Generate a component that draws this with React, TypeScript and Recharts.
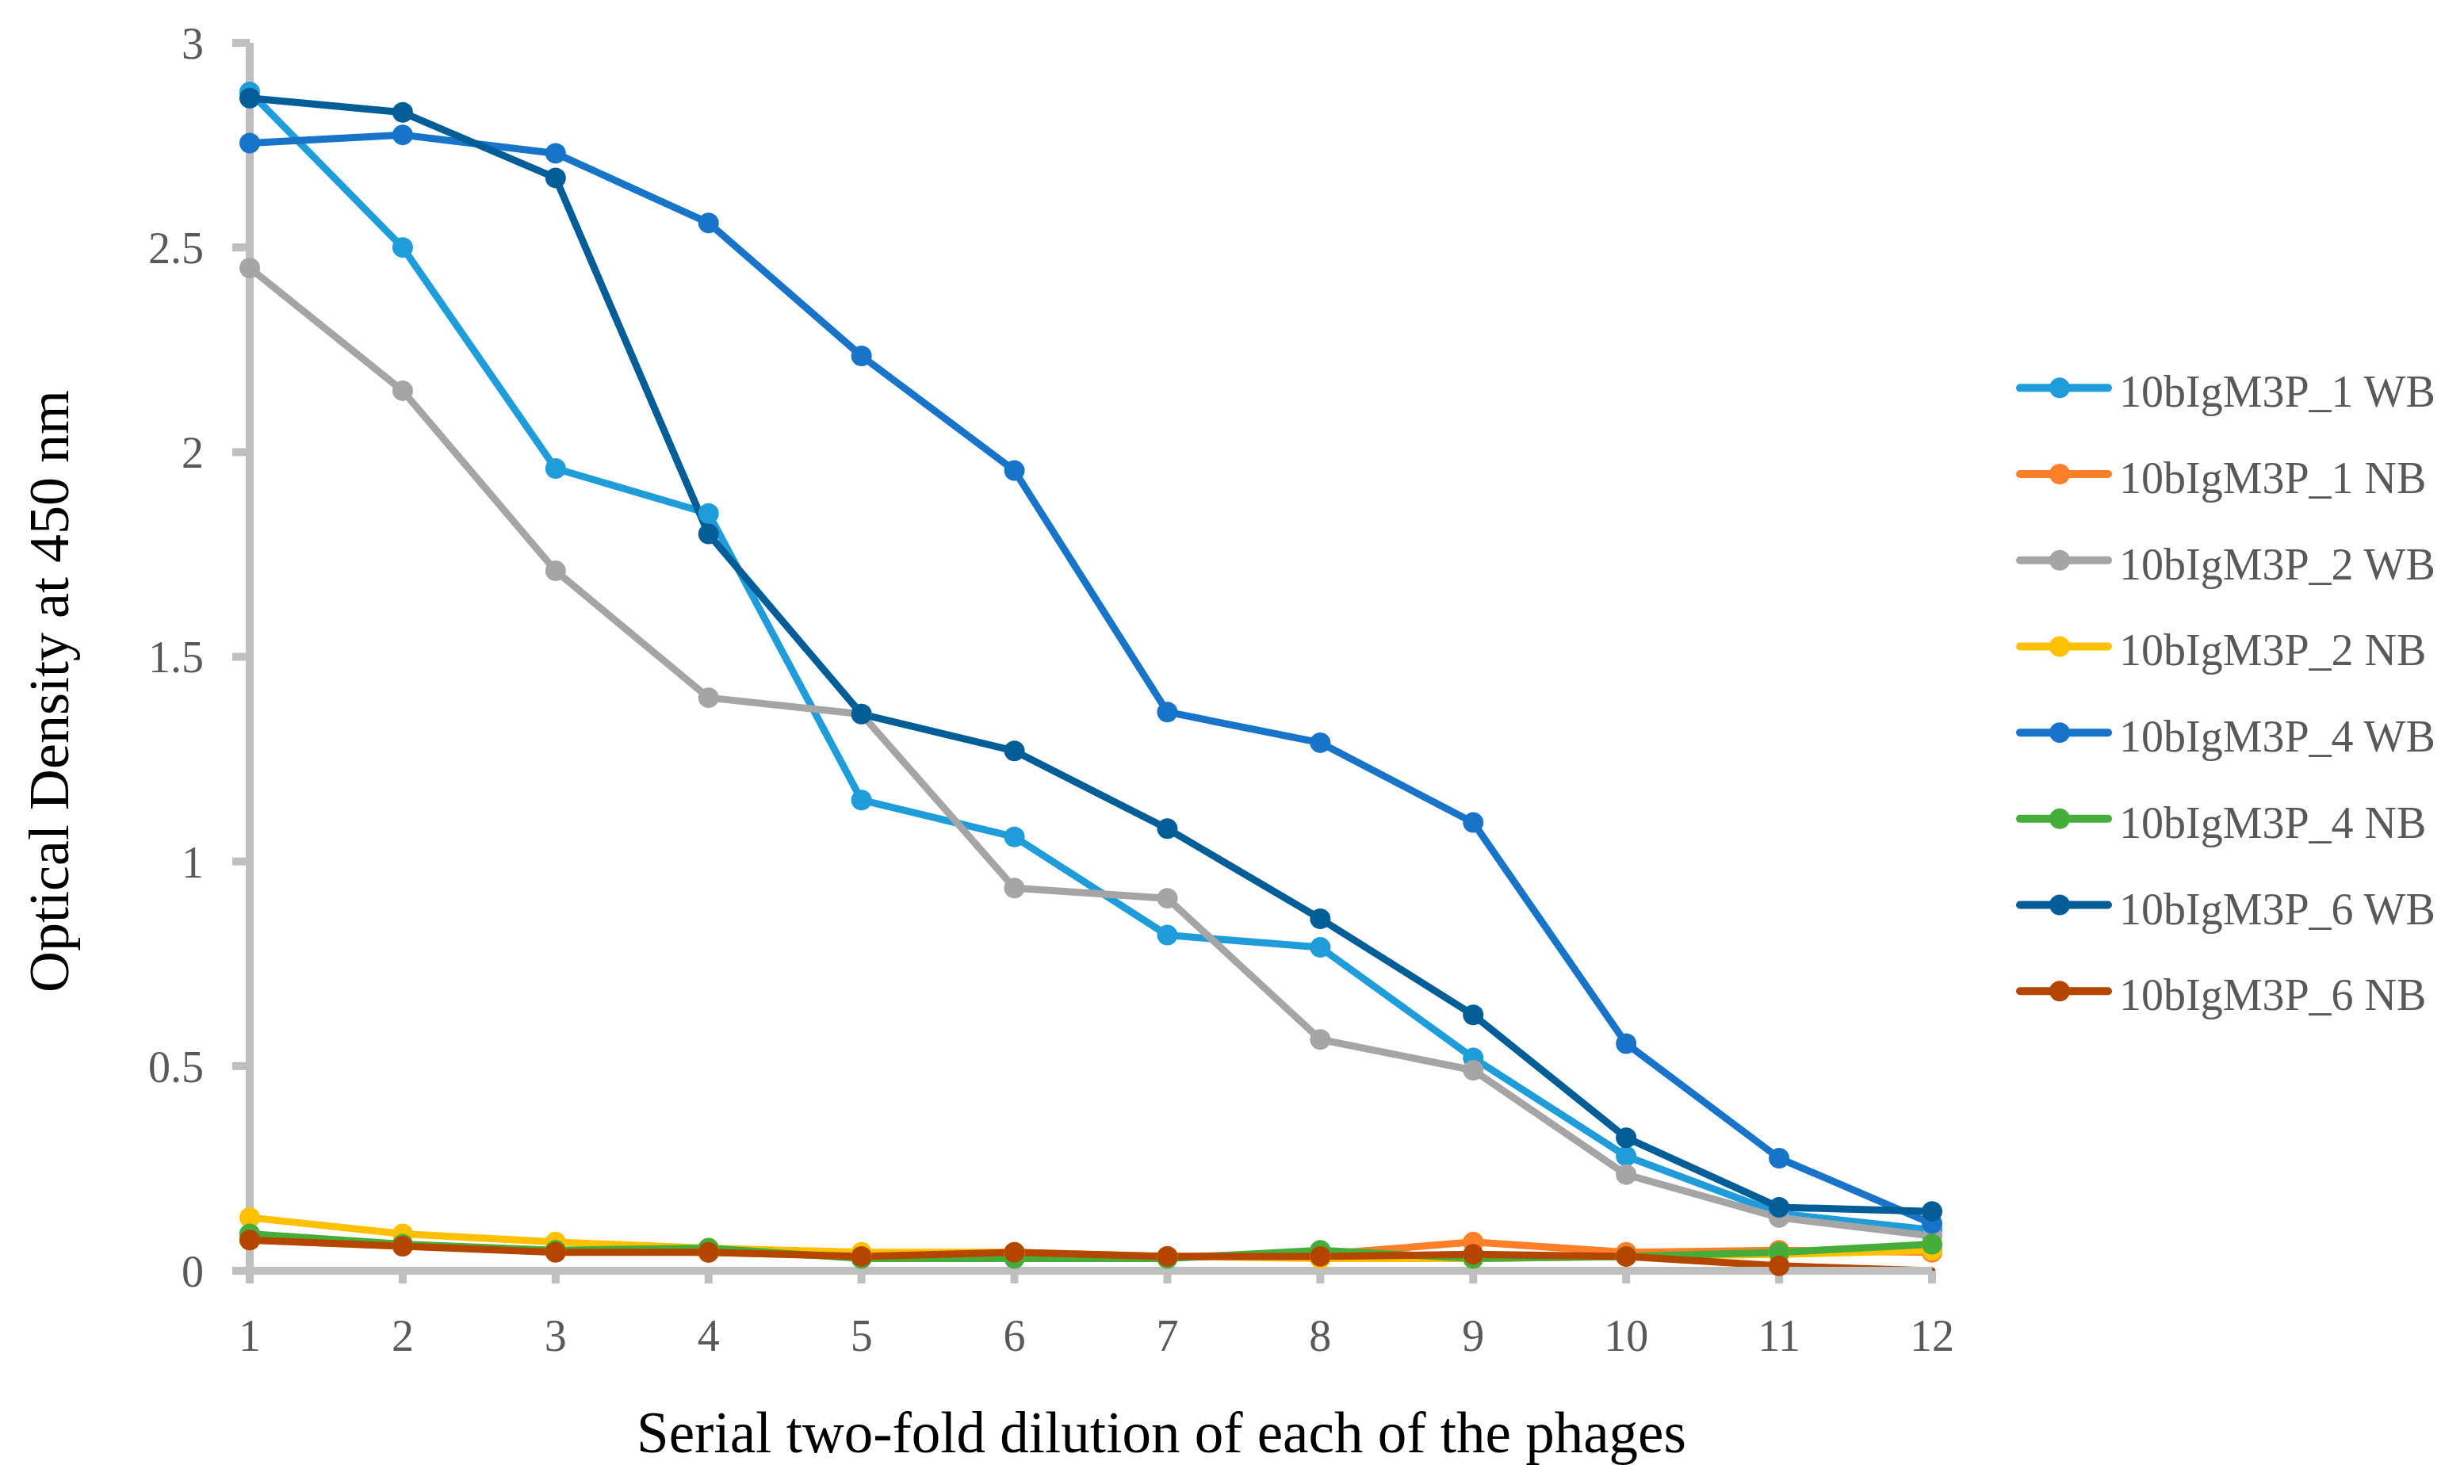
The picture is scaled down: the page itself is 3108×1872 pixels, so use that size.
import React from "react";
import { LineChart, Line, XAxis, YAxis, Legend, Label } from "recharts";

// dilution steps on the x axis
const dilutions = ["1", "2", "3", "4", "5", "6", "7", "8", "9", "10", "11", "12"];

// OD450 readings
const phage1WB = [2.88, 2.5, 1.96, 1.85, 1.15, 1.06, 0.82, 0.79, 0.52, 0.28, 0.14, 0.1];
const phage1NB = [0.075, 0.06, 0.05, 0.045, 0.035, 0.04, 0.035, 0.04, 0.07, 0.045, 0.05, 0.045];
const phage2WB = [2.45, 2.15, 1.71, 1.4, 1.36, 0.935, 0.91, 0.565, 0.49, 0.235, 0.13, 0.085];
const phage2NB = [0.13, 0.09, 0.07, 0.055, 0.045, 0.045, 0.035, 0.03, 0.03, 0.035, 0.04, 0.05];
const phage4WB = [2.755, 2.775, 2.73, 2.56, 2.235, 1.955, 1.365, 1.29, 1.095, 0.555, 0.275, 0.115];
const phage4NB = [0.09, 0.065, 0.05, 0.055, 0.03, 0.03, 0.03, 0.05, 0.03, 0.035, 0.045, 0.065];
const phage6WB = [2.865, 2.83, 2.67, 1.8, 1.36, 1.27, 1.08, 0.86, 0.625, 0.325, 0.155, 0.145];
const phage6NB = [0.075, 0.06, 0.045, 0.045, 0.035, 0.045, 0.035, 0.035, 0.04, 0.035, 0.012, 0.0];

const yTicks = [0, 0.5, 1, 1.5, 2, 2.5, 3];

const series = [
  { key: "p1wb", name: "10bIgM3P_1 WB", color: "#1E9DDA", values: phage1WB },
  { key: "p1nb", name: "10bIgM3P_1 NB", color: "#FD7F28", values: phage1NB },
  { key: "p2wb", name: "10bIgM3P_2 WB", color: "#A5A5A5", values: phage2WB },
  { key: "p2nb", name: "10bIgM3P_2 NB", color: "#FFC000", values: phage2NB },
  { key: "p4wb", name: "10bIgM3P_4 WB", color: "#1874C9", values: phage4WB },
  { key: "p4nb", name: "10bIgM3P_4 NB", color: "#45AE3B", values: phage4NB },
  { key: "p6wb", name: "10bIgM3P_6 WB", color: "#035E97", values: phage6WB },
  { key: "p6nb", name: "10bIgM3P_6 NB", color: "#B44600", values: phage6NB },
];

const chartData = dilutions.map((d, i) => {
  const row: Record<string, string | number> = { dilution: d };
  series.forEach((s) => {
    row[s.key] = s.values[i];
  });
  return row;
});

const FONT = "'Liberation Serif', 'Times New Roman', serif";
const AXIS_GREY = "#BFBFBF";
const TEXT_GREY = "#595959";
const ROW = 108.7;

// keep the series order (recharts sorts the payload by name)
function LegendBox({ payload }: any) {
  const byKey: Record<string, any> = {};
  (payload || []).forEach((p: any) => {
    byKey[p.dataKey] = p;
  });
  const items = series.filter((s) => byKey[s.key]);
  return (
    <svg width={560} height={ROW * items.length} style={{ display: "block" }}>
      {items.map((s, i) => {
        const y = ROW / 2 + i * ROW;
        const color = byKey[s.key].color;
        return (
          <g key={s.key}>
            <line x1={5} x2={116} y1={y} y2={y} stroke={color} strokeWidth={10} strokeLinecap="round" />
            <circle cx={55} cy={y} r={13} fill={color} />
            <text x={130} y={y + 24} fill={TEXT_GREY} fontSize={56} fontFamily={FONT}>
              {byKey[s.key].value}
            </text>
          </g>
        );
      })}
    </svg>
  );
}

// Excel leaves no marker on a zero reading
const makeDot = (color: string) => (props: any) => {
  const { cx, cy, value, index } = props;
  if (value === 0 || cx == null || cy == null) return <g key={index} />;
  return <circle key={index} cx={cx} cy={cy} r={13} fill={color} />;
};

export default function App() {
  return (
    <div style={{ width: 3108, height: 1872, background: "#fff" }}>
      <style>{"body{margin:0}"}</style>
      <LineChart
        width={3108}
        height={1872}
        data={chartData}
        margin={{ top: 54, right: 671, bottom: 119, left: 115 }}
      >
        <XAxis
          dataKey="dilution"
          height={150}
          interval={0}
          axisLine={{ stroke: AXIS_GREY, strokeWidth: 10 }}
          tickLine={{ stroke: AXIS_GREY, strokeWidth: 10 }}
          tickSize={16}
          tickMargin={45}
          tick={{ fill: TEXT_GREY, fontSize: 56, fontFamily: FONT }}
        >
          <Label
            content={() => (
              <text x={1465} y={1832} textAnchor="middle" fill="#000" fontSize={73} fontFamily={FONT}>
                Serial two-fold dilution of each of the phages
              </text>
            )}
          />
        </XAxis>
        <YAxis
          width={200}
          domain={[0, 3]}
          ticks={yTicks}
          interval={0}
          axisLine={{ stroke: AXIS_GREY, strokeWidth: 10 }}
          tickLine={{ stroke: AXIS_GREY, strokeWidth: 10 }}
          tickSize={22}
          tickMargin={36}
          tick={{ fill: TEXT_GREY, fontSize: 56, fontFamily: FONT }}
        >
          <Label
            content={() => (
              <text
                x={86}
                y={872}
                transform="rotate(-90, 86, 872)"
                textAnchor="middle"
                fill="#000"
                fontSize={72}
                fontFamily={FONT}
              >
                Optical Density at 450 nm
              </text>
            )}
          />
        </YAxis>
        <Legend
          layout="vertical"
          align="center"
          verticalAlign="middle"
          width={560}
          wrapperStyle={{ left: 2543, top: 435, width: 560 }}
          content={<LegendBox />}
        />
        {series.map((s) => (
          <Line
            key={s.key}
            dataKey={s.key}
            name={s.name}
            stroke={s.color}
            strokeWidth={9}
            strokeLinejoin="round"
            strokeLinecap="round"
            dot={makeDot(s.color)}
            activeDot={false}
            isAnimationActive={false}
          />
        ))}
      </LineChart>
    </div>
  );
}
